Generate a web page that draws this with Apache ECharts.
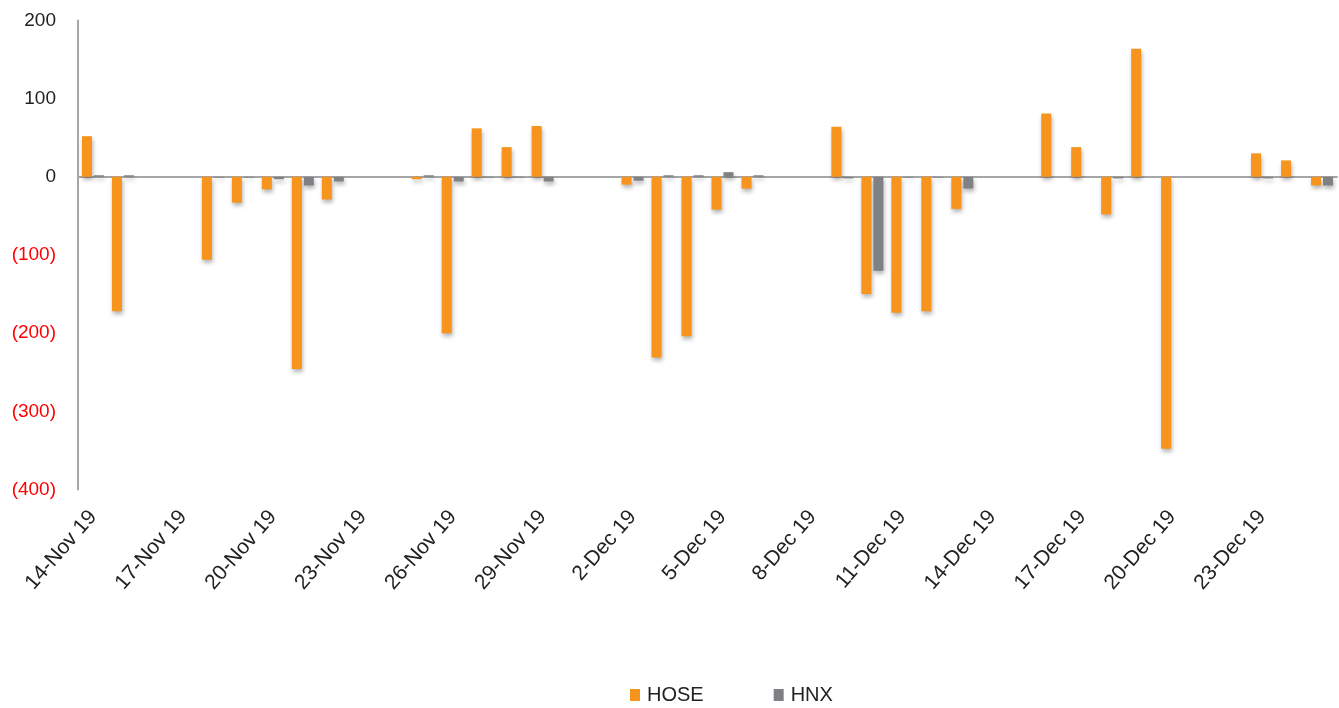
<!DOCTYPE html>
<html>
<head>
<meta charset="utf-8">
<title>HOSE / HNX</title>
<script src="https://cdn.jsdelivr.net/npm/echarts@6/dist/echarts.min.js"></script>
<style>
  html, body { margin: 0; padding: 0; background: #ffffff; }
  #chart { width: 1339px; height: 708px; }
</style>
</head>
<body>
<div id="chart"></div>
<script>
// Calendar days on the category axis; weekends carry no values
const categories = [
  '14-Nov 19', '15-Nov 19', '16-Nov 19', '17-Nov 19', '18-Nov 19', '19-Nov 19', '20-Nov 19',
  '21-Nov 19', '22-Nov 19', '23-Nov 19', '24-Nov 19', '25-Nov 19', '26-Nov 19', '27-Nov 19',
  '28-Nov 19', '29-Nov 19', '30-Nov 19', '1-Dec 19', '2-Dec 19', '3-Dec 19', '4-Dec 19',
  '5-Dec 19', '6-Dec 19', '7-Dec 19', '8-Dec 19', '9-Dec 19', '10-Dec 19', '11-Dec 19',
  '12-Dec 19', '13-Dec 19', '14-Dec 19', '15-Dec 19', '16-Dec 19', '17-Dec 19', '18-Dec 19',
  '19-Dec 19', '20-Dec 19', '21-Dec 19', '22-Dec 19', '23-Dec 19', '24-Dec 19', '25-Dec 19'
];

const hoseValues = [
  52, -172, null, null, -106, -33, -16,
  -246, -29, null, null, -3, -200, 62,
  38, 65, null, null, -10, -231, -204,
  -42, -15, null, null, 64, -150, -174,
  -172, -41, null, null, 81, 38, -48,
  164, -348, null, null, 30, 21, -11
];

const hnxValues = [
  2, 2, null, null, -1, -1, -3,
  -11, -6, null, null, 2, -6, -1,
  -1, -6, null, null, -5, 2, 2,
  6, 2, null, null, -2, -120, -1,
  -1, -15, null, null, 0, 0, -2,
  0, 0, null, null, -2, 0, -11
];

const yTicks = [-400, -300, -200, -100, 0, 100, 200];

const FONT = '"Liberation Sans", Arial, sans-serif';
const ORANGE = '#F7941D';
const GREY = '#808184';

const barShadow = {
  shadowColor: 'rgba(0,0,0,0.30)',
  shadowBlur: 4,
  shadowOffsetX: 1,
  shadowOffsetY: 3
};

const chart = echarts.init(document.getElementById('chart'), null, { renderer: 'canvas' });

chart.setOption({
  animation: false,
  backgroundColor: '#ffffff',
  grid: { left: 78, right: 2, top: 20.5, height: 469, containLabel: false },
  legend: {
    left: 625,
    top: 680,
    itemWidth: 10,
    itemHeight: 12,
    itemGap: 70,
    icon: 'rect',
    textStyle: { fontFamily: FONT, fontSize: 20, color: '#222222', padding: [0, 0, 0, 2] },
    data: ['HOSE', 'HNX']
  },
  xAxis: {
    type: 'category',
    data: categories,
    axisLine: { onZero: true, lineStyle: { color: '#A6A6A6', width: 2 } },
    axisTick: { show: false },
    axisLabel: {
      interval: 2,
      rotate: 49,
      margin: 24,
      fontFamily: FONT,
      fontSize: 21,
      color: '#222222'
    },
    splitLine: { show: false }
  },
  yAxis: {
    type: 'value',
    min: yTicks[0],
    max: yTicks[yTicks.length - 1],
    interval: 100,
    axisLine: { show: true, lineStyle: { color: '#A6A6A6', width: 2 } },
    axisTick: { show: false },
    splitLine: { show: false },
    axisLabel: {
      margin: 22,
      fontFamily: FONT,
      fontSize: 19,
      color: '#222222',
      formatter: function (v) {
        return v < 0 ? '{neg|(' + Math.abs(v) + ')}' : String(v);
      },
      rich: {
        neg: { color: '#FF0000', fontFamily: FONT, fontSize: 19 }
      }
    }
  },
  series: [
    {
      name: 'HOSE',
      type: 'bar',
      data: hoseValues,
      barWidth: 10,
      barGap: '20%',
      itemStyle: Object.assign({ color: ORANGE }, barShadow)
    },
    {
      name: 'HNX',
      type: 'bar',
      data: hnxValues,
      barWidth: 10,
      itemStyle: Object.assign({ color: GREY }, barShadow)
    }
  ]
});
</script>
</body>
</html>
